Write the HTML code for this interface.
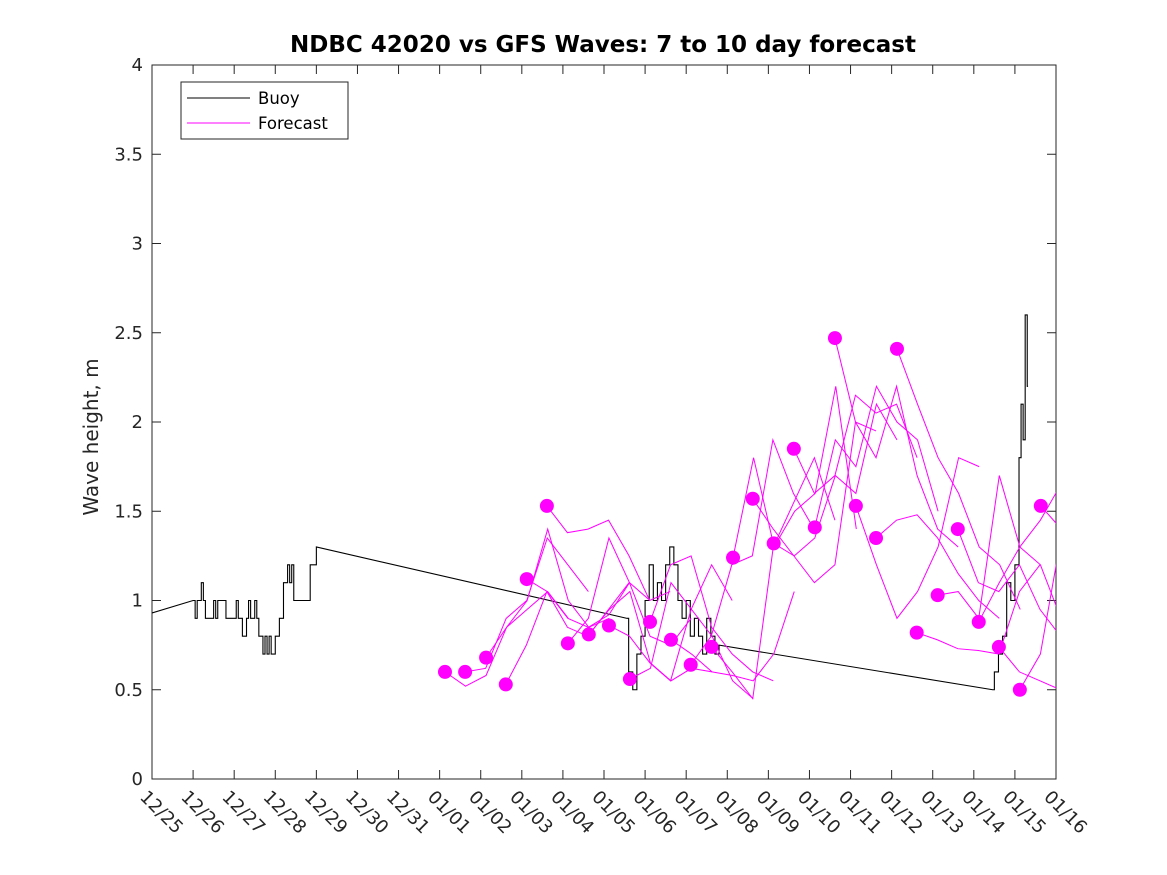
<!DOCTYPE html>
<html><head><meta charset="utf-8"><style>body{margin:0;background:#fff}svg{display:block;font-family:"DejaVu Sans","Liberation Sans",sans-serif}</style></head>
<body>
<svg id="chart" width="1167" height="875" viewBox="0 0 1167 875" xmlns="http://www.w3.org/2000/svg">
<rect width="1167" height="875" fill="#fff"/>
<g id="plot"></g>
<text x="603" y="52" text-anchor="middle" font-size="23" font-weight="bold">NDBC 42020 vs GFS Waves: 7 to 10 day forecast</text>
<text transform="translate(98,437) rotate(-90)" text-anchor="middle" font-size="20" fill="#262626">Wave height, m</text>
<g>
<rect x="181" y="82" width="167" height="57" fill="#fff" stroke="#262626" stroke-width="1"/>
<line x1="187" y1="98" x2="250" y2="98" stroke="#000"/>
<text x="258" y="104" font-size="16.5">Buoy</text>
<line x1="187" y1="123" x2="250" y2="123" stroke="#f0f"/>
<text x="258" y="129" font-size="16.5">Forecast</text>
</g>
</svg>
<script>
const xTickLabels=["12/25","12/26","12/27","12/28","12/29","12/30","12/31","01/01","01/02","01/03","01/04","01/05","01/06","01/07","01/08","01/09","01/10","01/11","01/12","01/13","01/14","01/15","01/16"];
const yTicks=[0,0.5,1,1.5,2,2.5,3,3.5,4];
const buoyDays=[0,1,1.05,1.1,1.2,1.25,1.3,1.5,1.55,1.6,1.8,2.0,2.05,2.1,2.2,2.3,2.35,2.4,2.5,2.55,2.6,2.7,2.75,2.8,2.85,2.9,3.0,3.1,3.2,3.3,3.35,3.4,3.45,3.8,3.85,3.95,4.0,11.56,11.6,11.7,11.8,11.9,12.0,12.1,12.2,12.3,12.4,12.5,12.6,12.7,12.8,12.9,13.0,13.1,13.2,13.3,13.4,13.5,13.6,13.7,13.8,20.46,20.5,20.6,20.7,20.8,20.9,21.0,21.1,21.15,21.2,21.25,21.3,21.32];
const buoyVals=[0.93,1.0,0.9,1.0,1.1,1.0,0.9,1.0,0.9,1.0,0.9,0.9,1.0,0.9,0.8,0.9,1.0,0.9,1.0,0.9,0.8,0.7,0.8,0.7,0.8,0.7,0.8,0.9,1.1,1.2,1.1,1.2,1.0,1.0,1.2,1.2,1.3,0.9,0.6,0.5,0.7,0.8,1.0,1.2,1.0,1.1,1.0,1.2,1.3,1.2,1.0,0.9,1.0,0.8,0.9,0.8,0.7,0.9,0.8,0.7,0.75,0.5,0.6,0.7,0.8,1.1,1.0,1.2,1.8,2.1,1.9,2.6,2.2,2.2];
const fcStart=[7.13,7.62,8.13,8.61,9.12,9.61,10.12,10.63,11.12,11.63,12.12,12.63,13.11,13.62,14.14,14.62,15.13,15.62,16.13,16.62,17.13,17.62,18.13,18.61,19.12,19.61,20.12,20.61,21.12,21.63];
const fcVals=[
[0.60,0.52,0.58,0.85,0.95,1.05,0.90],
[0.60,0.62,0.90,1.00,1.35,1.20,1.05],
[0.68,0.85,1.00,1.40,1.00,0.85,0.90],
[0.53,0.75,1.05,0.85,0.80,0.95,1.10],
[1.12,1.05,0.90,0.85,0.92,1.10,1.00],
[1.53,1.38,1.40,1.45,1.25,1.00,1.05],
[0.76,0.90,1.35,1.10,0.80,0.75,0.90],
[0.81,0.95,1.05,0.65,0.55,0.62,0.60],
[0.86,0.80,0.65,0.55,0.95,1.20,1.00],
[0.56,0.62,1.10,0.95,0.80,0.55,0.45],
[0.88,1.20,1.25,0.85,0.70,0.60,0.55],
[0.78,0.70,0.60,0.58,0.55,0.70,1.05],
[0.64,0.80,1.20,1.25,1.90,1.60,1.40],
[0.74,0.60,0.45,1.30,1.55,1.80,1.45],
[1.24,1.80,1.30,1.50,1.60,2.20,1.40],
[1.57,1.40,1.25,1.10,1.20,2.00,1.95],
[1.32,1.25,1.35,1.70,1.60,2.10,1.90],
[1.85,1.60,1.70,2.15,2.05,2.10,1.80],
[1.41,1.90,1.75,2.20,2.00,1.90,1.50],
[2.47,2.00,1.80,2.20,1.70,1.40,1.30],
[1.53,1.20,0.90,1.05,1.30,1.80,1.75],
[1.35,1.45,1.48,1.35,1.15,1.00,0.90],
[2.41,2.10,1.80,1.60,1.30,1.20,0.95],
[0.82,0.78,0.73,0.72,0.70,1.05,1.20],
[1.03,1.05,0.90,1.70,1.30,1.20,0.90],
[1.40,1.10,1.05,1.20,0.95,0.80,0.60],
[0.88,1.10,1.30,1.45,1.65,1.00,0.55],
[0.74,0.60,0.55,0.50,0.60,1.35,1.20],
[0.50,0.70,1.35,1.60,1.30,0.80],
[1.53,1.40,1.10,0.70]];
const X0=152,X1=1056,Y0=779,Y1=65;
const xs=d=>X0+(X1-X0)*d/22, ys=v=>Y0-(Y0-Y1)*v/4;
const NS="http://www.w3.org/2000/svg";
const g=document.getElementById('plot');
function mk(t,a,p){const e=document.createElementNS(NS,t);for(const k in a)e.setAttribute(k,a[k]);(p||g).appendChild(e);return e;}
const defs=mk('defs',{});const cp=mk('clipPath',{id:'c'},defs);mk('rect',{x:X0,y:Y1,width:X1-X0,height:Y0-Y1},cp);
const ax=mk('rect',{x:X0,y:Y1,width:X1-X0,height:Y0-Y1,fill:'none',stroke:'#262626','stroke-width':1});


yTicks.forEach(v=>{const y=ys(v);
mk('line',{x1:X0,y1:y,x2:X0+9,y2:y,stroke:'#262626'});mk('line',{x1:X1,y1:y,x2:X1-9,y2:y,stroke:'#262626'});
const t=mk('text',{x:X0-9,y:y+6,'text-anchor':'end','font-size':18,fill:'#262626'});t.textContent=String(v);

});
xTickLabels.forEach((l,i)=>{const x=xs(i);
mk('line',{x1:x,y1:Y0,x2:x,y2:Y0-9,stroke:'#262626'});mk('line',{x1:x,y1:Y1,x2:x,y2:Y1+9,stroke:'#262626'});
const t=mk('text',{transform:`translate(${x-13},${Y0+19}) rotate(45)`,'font-size':18,fill:'#262626'});t.textContent=l;

});
const cg=mk('g',{'clip-path':'url(#c)'});
let pts=[];
buoyDays.forEach((d,i)=>{
  const gap=i>0&&d-buoyDays[i-1]>=0.9;
  if(i>0&&!gap)pts.push(xs(d)+','+ys(buoyVals[i-1]));
  pts.push(xs(d)+','+ys(buoyVals[i]));
});
const bl=mk('polyline',{points:pts.join(' '),fill:'none',stroke:'#000','stroke-width':1.1},cg);


fcStart.forEach((s,i)=>{const vals=fcVals[i];
const pl=mk('polyline',{points:vals.map((v,j)=>xs(s+j*0.5)+','+ys(v)).join(' '),fill:'none',stroke:'#f0f','stroke-width':1},cg);

});
fcStart.forEach((s,i)=>{const c=mk('circle',{cx:xs(s),cy:ys(fcVals[i][0]),r:7,fill:'#f0f'},cg);

});
</script>
</body></html>
